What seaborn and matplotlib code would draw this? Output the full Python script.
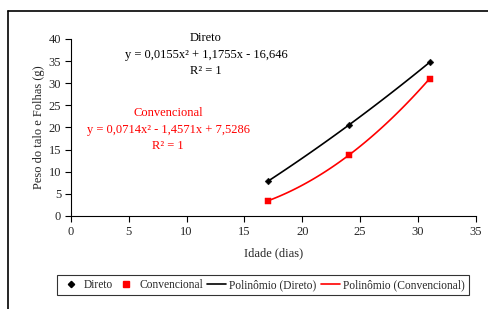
import numpy as np
import pandas as pd
import matplotlib
matplotlib.use('Agg')
import matplotlib.pyplot as plt
from matplotlib.lines import Line2D
import seaborn as sns

# dados
idade = [17, 24, 31]
direto = [7.8, 20.5, 34.7]
convencional = [3.4, 13.7, 31.0]

eq_direto = ['Direto', 'y = 0,0155x² + 1,1755x - 16,646', 'R² = 1']
eq_conv = ['Convencional', 'y = 0,0714x² - 1,4571x + 7,5286', 'R² = 1']

sns.set_style('white')
plt.rcParams['font.family'] = ['Liberation Serif', 'DejaVu Serif']
plt.rcParams['font.size'] = 9

fig = plt.figure(figsize=(4.89, 3.09), dpi=100)
ax = fig.add_axes([0.145, 0.301, 0.828, 0.573])

# linhas de tendência (polinômio de 2a ordem)
xs = np.linspace(idade[0], idade[-1], 60)
p_d = np.polyfit(idade, direto, 2)
p_c = np.polyfit(idade, convencional, 2)
curvas = pd.DataFrame({'x': xs, 'd': np.polyval(p_d, xs), 'c': np.polyval(p_c, xs)})
sns.lineplot(data=curvas, x='x', y='d', color='black', lw=1.2, ax=ax)
sns.lineplot(data=curvas, x='x', y='c', color='red', lw=1.2, ax=ax)

pts = pd.DataFrame({'x': idade, 'd': direto, 'c': convencional})
sns.scatterplot(data=pts, x='x', y='d', marker='D', s=12, color='black', edgecolor='black', ax=ax, zorder=5)
sns.scatterplot(data=pts, x='x', y='c', marker='s', s=18, color='red', edgecolor='red', ax=ax, zorder=5)

ax.set_xlim(0, 35)
ax.set_ylim(0, 40)
ax.set_xticks(range(0, 36, 5))
ax.set_yticks(range(0, 41, 5))
ax.set_xlabel('Idade (dias)', fontsize=9, labelpad=7)
ax.set_ylabel('Peso do talo e Folhas (g)', fontsize=9, labelpad=3)
ax.tick_params(axis='both', direction='out', length=4, width=0.8, color='black',
               labelsize=9, left=True, bottom=True, pad=3)
for s in ['top', 'right']:
    ax.spines[s].set_visible(False)
for s in ['left', 'bottom']:
    ax.spines[s].set_color('black')
    ax.spines[s].set_linewidth(0.8)

# equações
for txt, y in zip(eq_direto, [40.2, 36.4, 32.8]):
    ax.text(11.67, y, txt, ha='center', va='center', fontsize=9, color='black')
for txt, y in zip(eq_conv, [23.3, 19.4, 15.8]):
    ax.text(8.4, y, txt, ha='center', va='center', fontsize=9, color='red')

handles = [
    Line2D([], [], ls='none', marker='D', ms=3.2, color='black'),
    Line2D([], [], ls='none', marker='s', ms=4.2, color='red'),
    Line2D([], [], color='black', lw=1.2),
    Line2D([], [], color='red', lw=1.2),
]
labels = ['Direto', 'Convencional', 'Polinômio (Direto)', 'Polinômio (Convencional)']
leg = fig.legend(handles, labels, loc='center', bbox_to_anchor=(0.538, 0.077), ncol=4,
                 frameon=True, fancybox=False, edgecolor='black', fontsize=8.3,
                 handlelength=1.6, handletextpad=0.3, columnspacing=0.4, borderpad=0.35,
                 borderaxespad=0)
leg.get_frame().set_linewidth(0.8)

# moldura parcial
fig.add_artist(Line2D([8/489, 8/489], [0, 1 - 11/309], color='black', lw=1.2))
fig.add_artist(Line2D([8/489, 1], [1 - 11/309, 1 - 11/309], color='black', lw=1.2))

fig.savefig('out.png', dpi=100)
